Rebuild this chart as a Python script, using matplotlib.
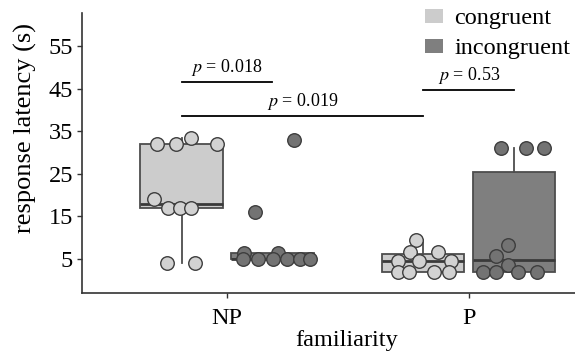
import matplotlib
matplotlib.use("Agg")
import matplotlib.pyplot as plt
from matplotlib.patches import Patch
import numpy as np

plt.rcParams['font.family'] = ['Liberation Serif', 'DejaVu Serif']
plt.rcParams['mathtext.fontset'] = 'stix'

# data
familiarity = ["NP", "P"]
conditions = ["congruent", "incongruent"]
np_congruent = [32, 32, 33.5, 32, 19, 17, 17, 17, 4, 4]
np_incongruent = [33, 16, 6.5, 6.5, 5, 5, 5, 5, 5, 5]
p_congruent = [9.5, 6.7, 6.7, 4.4, 4.4, 4.4, 2, 2, 2, 2]
p_incongruent = [31, 31, 31, 8.3, 5.8, 3.6, 2, 2, 2, 2]
# horizontal jitter of each point (category units)
jit_np_con = [-0.10, -0.025, 0.04, 0.145, -0.115, -0.058, -0.008, 0.037, -0.062, 0.054]
jit_np_inc = [0.091, -0.074, -0.116, 0.021, -0.12, -0.058, 0.004, 0.062, 0.116, 0.157]
jit_p_con = [-0.029, -0.054, 0.062, -0.103, -0.017, 0.116, -0.103, -0.058, 0.045, 0.107]
jit_p_inc = [-0.054, 0.05, 0.124, -0.025, -0.074, -0.025, -0.128, -0.074, 0.017, 0.095]
# comparisons: (group a, group b, height, label)
comparisons = [(0, 1, 46.6, "0.018"), (0, 2, 38.6, "0.019"), (2, 3, 44.7, "0.53")]

groups = [np_congruent, np_incongruent, p_congruent, p_incongruent]
jitters = [jit_np_con, jit_np_inc, jit_p_con, jit_p_inc]
fills = ["#cccccc", "#7f7f7f", "#cccccc", "#7f7f7f"]
pt_fills = ["#d2d2d2", "#737373", "#d2d2d2", "#737373"]
dodge = 0.188
pos = [1 - dodge, 1 + dodge, 2 - dodge, 2 + dodge]
fs = 17.5

fig = plt.figure(figsize=(5.75, 3.52), dpi=100)
ax = fig.add_axes([0.1426, 0.1676, 0.8574, 0.7954])

bp = ax.boxplot(groups, positions=pos, widths=0.34, patch_artist=True,
                showfliers=False, showcaps=False, whis=1.5,
                medianprops=dict(color="#3a3a3a", linewidth=2),
                whiskerprops=dict(color="#4d4d4d", linewidth=1.3),
                boxprops=dict(edgecolor="#4d4d4d", linewidth=1.3))
for patch, c in zip(bp['boxes'], fills):
    patch.set_facecolor(c)

for p, vals, jit, c in zip(pos, groups, jitters, pt_fills):
    ax.scatter(np.array(jit) + p, vals, s=95, color=c, edgecolor="#3d3d3d",
               linewidth=1.0, zorder=3)

for a, b, h, lab in comparisons:
    ax.plot([pos[a], pos[b]], [h, h], color="black", lw=1.3, zorder=4)
    ax.text((pos[a] + pos[b]) / 2, h + 1.0, "$p$ = " + lab, ha="center",
            va="bottom", fontsize=13)

ax.set_xlim(0.4, 2.44)
ax.set_ylim(-3, 62.75)
ax.set_xticks([1, 2])
ax.set_xticklabels(familiarity)
ax.set_yticks([5, 15, 25, 35, 45, 55])
ax.tick_params(labelsize=fs, length=3.5, color="#333333", width=1, pad=3)
ax.tick_params(axis="x", pad=7)
ax.set_xlabel("familiarity", fontsize=fs)
ax.set_ylabel("response latency (s)", fontsize=19)
ax.xaxis.set_label_coords(0.5375, -0.131)
ax.yaxis.set_label_coords(-0.091, 0.591)
for s in ["top", "right"]:
    ax.spines[s].set_visible(False)
for s in ["left", "bottom"]:
    ax.spines[s].set_color("#333333")
    ax.spines[s].set_linewidth(1.2)

handles = [Patch(facecolor=fills[0], edgecolor="none"),
           Patch(facecolor=fills[1], edgecolor="none")]
ax.legend(handles, conditions, loc="upper right", bbox_to_anchor=(0.992, 0.976),
          bbox_transform=fig.transFigure, borderaxespad=0, borderpad=0,
          frameon=False, fontsize=fs, handlelength=0.75, handleheight=0.55,
          handletextpad=0.45, labelspacing=0.37)

fig.savefig("out.png", dpi=100)
